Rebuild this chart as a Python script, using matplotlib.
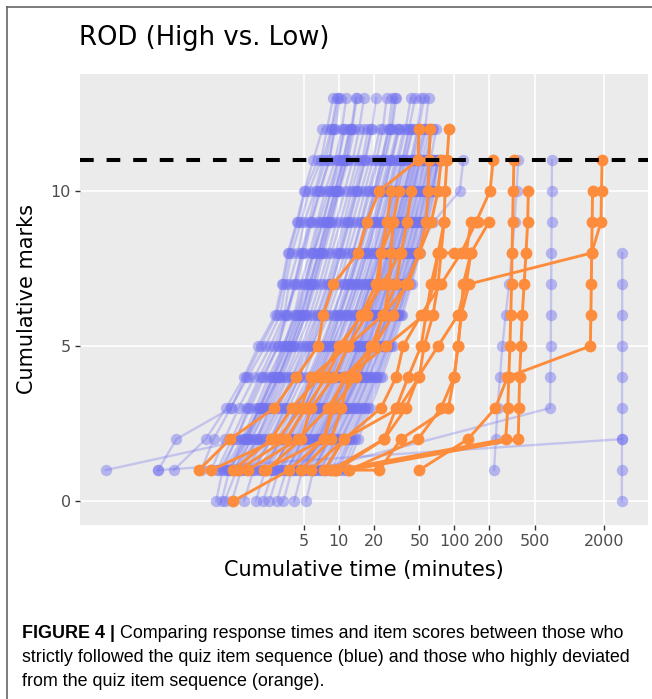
import numpy as np
import matplotlib.pyplot as plt
from matplotlib.lines import Line2D

# ---- data (minutes, cumulative marks) ----
# regular "blue" students: first mark, then one time per item
blue_start = [1, 1, 0, 1, 0, 1, 1, 1, 0, 1, 1, 1, 1, 0, 1, 1, 1, 0, 1, 1, 1, 1, 0, 1,
              1, 1, 1, 0, 1, 1, 1, 0, 1, 1, 1, 0, 1, 1, 1, 1, 1, 1, 1, 1, 1, 1, 1, 1,
              1, 1, 0, 1, 1, 1, 0, 1, 1, 1, 1, 1, 1, 1, 1, 1, 1, 0, 1, 1]
blue_times = [
    [0.64, 0.82, 1.15, 1.62, 2.3, 3.1, 3.45, 3.9, 4.7, 5.5, 7.0, 7.9, 8.9],
    [0.78, 1.02, 1.35, 1.85, 2.55, 3.35, 3.7, 4.4, 5.0, 6.2, 7.3, 8.6, 9.6],
    [0.86, 0.98, 1.28, 1.7, 2.25, 2.95, 3.6, 4.15, 4.8, 5.7, 6.8, 8.2, 9.3, 10.2],
    [0.92, 1.3, 1.62, 2.15, 3.0, 3.45, 4.3, 5.0, 5.8, 6.9, 8.3, 9.1],
    [0.96, 1.12, 1.5, 2.05, 2.7, 3.4, 4.35, 5.1, 5.9, 6.75, 8.1, 9.9, 11.0],
    [1.0, 1.45, 1.9, 2.45, 3.3, 4.1, 4.7, 5.6, 6.5, 7.6, 9.3, 10.6, 11.6],
    [1.07, 1.5, 2.05, 2.7, 3.55, 4.45, 5.3, 6.1, 7.3, 8.5, 9.9, 11.3],
    [1.12, 1.62, 2.2, 2.95, 3.8, 4.75, 5.55, 6.6, 7.7, 9.2, 10.9],
    [1.18, 1.42, 1.95, 2.5, 3.25, 4.1, 5.15, 6.0, 7.1, 8.4, 9.9, 11.7, 13.0, 14.3],
    [1.22, 1.75, 2.4, 3.1, 4.05, 5.2, 6.3, 7.4, 8.7, 10.1, 12.0, 13.6],
    [1.3, 1.9, 2.6, 3.45, 4.4, 5.6, 6.8, 8.1, 9.5, 11.2, 13.2, 15.0, 16.5],
    [1.36, 1.98, 2.75, 3.6, 4.75, 6.0, 7.3, 8.6, 10.3, 12.2, 14.3, 16.6],
    [1.45, 2.1, 2.9, 3.9, 5.0, 6.45, 7.9, 9.4, 11.1, 12.9, 15.3],
    [1.5, 1.82, 2.6, 3.4, 4.5, 5.8, 7.2, 8.7, 10.3, 12.1, 14.3, 16.8, 19.0],
    [1.6, 2.3, 3.2, 4.25, 5.5, 7.0, 8.6, 10.4, 12.4, 14.5, 17.0, 19.4, 21.0],
    [1.7, 2.5, 3.4, 4.55, 5.9, 7.6, 9.3, 11.3, 13.2, 15.6, 18.5],
    [1.8, 2.6, 3.65, 4.9, 6.3, 8.1, 10.0, 12.0, 14.4, 16.8, 19.8, 22.6],
    [1.9, 2.3, 3.1, 4.3, 5.6, 7.3, 9.0, 11.0, 13.1, 15.5, 18.0, 21.2, 24.0, 26.0],
    [2.0, 2.9, 4.0, 5.4, 7.0, 8.9, 11.0, 13.3, 15.8, 18.7, 21.9],
    [2.1, 3.1, 4.3, 5.8, 7.5, 9.6, 11.8, 14.3, 17.0, 20.0, 23.6, 27.0],
    [2.3, 3.3, 4.6, 6.2, 8.1, 10.3, 12.7, 15.4, 18.3, 21.5, 25.3, 29.0, 31.5],
    [2.4, 3.5, 4.9, 6.6, 8.6, 11.0, 13.6, 16.4, 19.6, 23.0, 27.0],
    [2.5, 3.0, 4.2, 5.7, 7.4, 9.5, 11.9, 14.6, 17.5, 20.8, 24.5, 28.5, 33.0],
    [2.6, 3.8, 5.3, 7.1, 9.3, 11.8, 14.6, 17.7, 21.1, 24.8, 29.0, 33.5],
    [2.8, 4.0, 5.6, 7.5, 9.8, 12.5, 15.5, 18.8, 22.4, 26.4, 31.0],
    [3.0, 4.3, 6.0, 8.0, 10.5, 13.4, 16.5, 20.0, 23.9, 28.0, 33.0, 38.0, 42.0],
    [3.1, 4.5, 6.3, 8.5, 11.1, 14.1, 17.4, 21.1, 25.2, 29.6, 34.8],
    [3.3, 3.9, 5.4, 7.3, 9.6, 12.3, 15.3, 18.6, 22.3, 26.3, 30.8, 36.0, 41.0],
    [3.5, 5.0, 7.0, 9.4, 12.2, 15.5, 19.1, 23.2, 27.7, 32.5, 38.0, 44.0],
    [3.7, 5.3, 7.4, 9.9, 12.9, 16.3, 20.1, 24.4, 29.1, 34.2, 40.0],
    [3.9, 5.6, 7.8, 10.4, 13.5, 17.1, 21.1, 25.6, 30.5, 36.0, 42.0, 48.0, 52.0],
    [4.1, 4.8, 6.6, 8.9, 11.6, 14.8, 18.4, 22.4, 26.8, 31.6, 37.0, 43.0],
    [4.3, 6.1, 8.5, 11.3, 14.6, 18.4, 22.6, 27.3, 32.5, 38.2, 44.5, 51.0],
    [4.6, 6.5, 9.0, 11.9, 15.3, 19.3, 23.7, 28.6, 34.0, 40.0, 46.5],
    [4.9, 6.9, 9.5, 12.6, 16.2, 20.3, 24.9, 30.0, 35.6, 41.8, 48.5, 56.0, 60.0],
    [5.2, 6.0, 8.2, 10.9, 14.1, 17.8, 22.0, 26.6, 31.7, 37.3, 43.5, 50.5],
    [5.5, 7.7, 10.5, 13.9, 17.8, 22.3, 27.3, 32.8, 38.9, 45.5, 53.0, 61.0],
    [5.8, 8.1, 11.0, 14.5, 18.6, 23.2, 28.4, 34.1, 40.4, 47.3, 55.0],
    [6.2, 8.6, 11.7, 15.4, 19.7, 24.5, 29.9, 35.9, 42.5, 49.7, 57.5, 66.0],
    [6.6, 9.1, 12.3, 16.2, 20.6, 25.7, 31.3, 37.5, 44.3, 51.8, 60.0],
    [7.0, 9.6, 13.0, 17.0, 21.6, 26.9, 32.7, 39.2, 46.2, 54.0, 62.5, 70.0],
    [7.5, 10.2, 13.7, 17.9, 22.7, 28.1, 34.1, 40.8, 48.1, 56.0, 65.0],
    [8.0, 10.8, 14.4, 18.7, 23.7, 29.3, 35.6, 42.5, 50.0, 58.3, 67.5],
    [8.6, 11.5, 15.2, 19.7, 24.8, 30.6, 37.0, 44.1, 51.9, 60.4, 70.0],
    [9.2, 12.2, 16.0, 20.6, 25.9, 31.9, 38.5, 45.8, 53.8, 62.5, 72.5],
    [10.0, 13.0, 16.9, 21.6, 27.0, 33.1, 39.9, 47.4, 55.6, 64.6, 75.0],
    [10.8, 13.8, 17.8, 22.6, 28.1, 34.3, 41.3, 49.0, 57.4, 66.6, 72.0],
    [11.5, 14.7, 18.8, 23.7, 29.3, 35.6, 42.7, 50.6, 59.2, 68.6, 80.0],
    [1.25, 1.6, 2.2, 3.0, 3.9, 5.0, 6.0, 7.1, 8.3, 9.8, 11.5, 12.8, 14.0],
    [1.55, 2.2, 3.0, 4.0, 5.3, 6.6, 8.2, 9.9, 11.7, 13.8, 16.0, 18.0],
    [2.2, 2.7, 3.7, 5.0, 6.5, 8.3, 10.2, 12.4, 14.8, 17.4, 20.5, 23.5, 27.0, 29.0],
    [2.7, 3.6, 5.0, 6.8, 8.8, 11.2, 13.9, 16.9, 20.2, 23.8, 27.8, 32.0],
    [3.2, 4.7, 6.6, 8.8, 11.4, 14.6, 18.0, 21.8, 26.0, 30.6, 35.5, 40.5, 46.0],
    [3.6, 4.9, 6.9, 9.2, 12.0, 15.2, 18.9, 22.9, 27.4, 32.2, 37.5, 43.0],
    [2.9, 3.5, 4.8, 6.4, 8.4, 10.8, 13.5, 16.5, 19.8, 23.4, 27.3, 31.8, 36.5],
    [4.0, 5.9, 8.1, 10.8, 14.0, 17.7, 21.8, 26.4, 31.5, 37.0, 43.2, 49.0, 55.0],
    [4.5, 6.3, 8.7, 11.6, 15.0, 18.9, 23.2, 28.0, 33.3, 39.1, 45.5],
    [5.0, 7.1, 9.8, 13.0, 16.8, 21.1, 25.9, 31.2, 37.0, 43.4, 50.3, 57.5],
    [5.3, 7.4, 10.1, 13.4, 17.2, 21.6, 26.5, 31.9, 37.8, 44.2, 51.5],
    [6.0, 8.3, 11.3, 14.9, 19.1, 23.9, 29.2, 35.0, 41.5, 48.5, 56.0, 64.0],
    [6.9, 9.4, 12.7, 16.6, 21.1, 26.3, 32.0, 38.3, 45.2, 52.8, 61.0],
    [7.8, 10.5, 14.1, 18.3, 23.2, 28.7, 34.8, 41.6, 49.0, 57.2, 66.0],
    [9.6, 12.6, 16.4, 21.1, 26.4, 32.5, 39.2, 46.6, 54.7, 63.5, 73.0],
    [0.88, 1.18, 1.55, 2.05, 2.75, 3.5, 4.1, 4.75, 5.5, 6.4, 7.7, 8.8, 9.9],
    [1.15, 1.55, 2.1, 2.8, 3.6, 4.6, 5.6, 6.7, 7.9, 9.3, 10.9, 12.4],
    [1.02, 1.3, 1.72, 2.3, 3.0, 3.8, 4.8, 5.7, 6.8, 8.0, 9.5, 11.0, 12.4],
    [2.15, 3.2, 4.45, 6.0, 7.8, 9.9, 12.3, 14.9, 17.8, 20.9, 24.6, 28.2, 30.5],
    [4.8, 6.8, 9.3, 12.3, 15.8, 19.8, 24.3, 29.3, 34.8, 40.9, 47.5, 54.0],
]

# blue students with unusual paths (explicit marks)
blue_odd_marks = [
    [1, 2, 3, 4, 5, 6, 7, 8, 9, 10, 11],
    [1, 2, 3, 4, 5, 6, 7, 8, 9, 10, 11],
    [1, 2, 3, 4, 5, 6, 7, 8, 9, 10, 11, 12],
    [1, 2],
    [0, 1, 2, 3, 4, 5, 6, 7, 8],
    [1, 3, 4, 5, 6, 7, 8, 9, 10, 11],
    [1, 2, 3, 4, 5, 6, 7, 8, 9, 10, 11],
    [1, 2, 3, 4, 5, 6, 7, 8, 9, 10, 11],
]
blue_odd_times = [
    [0.095, 1.6, 2.0, 2.6, 3.3, 4.2, 5.0, 6.0, 7.2, 8.6, 10.5],
    [0.27, 0.39, 1.16, 1.55, 2.1, 2.9, 3.3, 3.7, 4.4, 5.1, 6.6],
    [0.37, 0.7, 1.05, 1.5, 2.0, 2.8, 3.2, 3.6, 4.3, 5.0, 6.0, 7.2],
    [0.27, 2870],
    [2850, 2855, 2858, 2862, 2865, 2868, 2870, 2872, 2875],
    [6.0, 680, 685, 690, 692, 695, 698, 700, 703, 706],
    [222, 230, 238, 250, 262, 280, 300, 318, 335, 348, 360],
    [4.2, 7.5, 11.0, 15.0, 20.0, 27.0, 36.0, 48.0, 66.0, 112, 120],
]

# "orange" students (high deviation)
orange_marks = [
    [1, 2, 3, 4, 5, 6, 7, 8, 9, 10, 11, 12],
    [1, 2, 3, 4, 5, 6, 7, 8, 9, 10],
    [0, 1, 2, 3, 4, 5, 6, 7, 8, 9, 10, 11, 12],
    [1, 2, 3, 4, 5, 6, 7, 8, 9, 10, 11, 12],
    [1, 2, 3, 4, 5, 6, 7, 8, 9, 10, 11],
    [1, 2, 3, 4, 5, 6, 7, 8, 9, 10, 11],
    [1, 2, 3, 4, 5, 6, 7, 8, 9, 10, 11],
    [1, 2, 3, 4, 5, 6, 7, 8, 9, 10],
    [1, 2, 3, 4, 5, 6, 7, 8, 9, 10],
    [1, 1, 2, 3, 4, 5, 6, 7, 8, 9, 10, 11],
    [1, 2, 3, 4, 5, 6, 7, 8, 9],
    [1, 2, 3, 4, 5, 6, 7, 8, 8, 8, 9, 9],
    [1, 2, 3, 4, 5, 6, 7, 8, 9, 10],
    [1, 2, 3, 4, 5, 6, 7, 8, 9, 10],
    [1, 2, 3, 4, 5, 6, 7, 8],
    [1, 2, 3, 4, 5, 6, 7, 8, 9],
    [1, 2, 3, 4, 5, 6, 7, 8, 9],
    [1, 2, 3, 4, 5, 6, 7, 8],
]
orange_times = [
    [0.61, 1.14, 2.75, 4.26, 6.6, 7.3, 8.95, 14.7, 17.4, 22.4, 48.7, 49.5],
    [0.78, 2.97, 4.71, 5.75, 12.0, 17.4, 22.4, 23.2, 29.5, 33.3],
    [1.21, 3.71, 7.46, 8.6, 11.1, 20.2, 29.5, 38.3, 49.8, 57.1, 59.5, 60.5, 62.0],
    [1.63, 4.44, 8.07, 11.6, 25.7, 54.9, 67.0, 72.6, 81.8, 83.4, 86.7, 90.5],
    [2.25, 7.46, 8.95, 14.1, 20.2, 24.1, 39.9, 49.8, 63.2, 72.6, 77.0],
    [5.75, 11.1, 23.2, 31.4, 36.1, 51.7, 77.0, 115, 155, 205, 218],
    [9.5, 280, 292, 298, 305, 310, 315, 318, 322, 326, 330],
    [12.3, 360, 365, 370, 380, 390, 405, 420, 435, 440],
    [49.8, 132, 228, 290, 1520, 1535, 1550, 1560, 1575, 1590],
    [9.0, 22.4, 34.6, 89.0, 100, 108, 115, 135, 1560, 1880, 1900, 1920],
    [8.6, 24.7, 38.3, 48.7, 72.6, 108, 127, 140, 201],
    [9.5, 24.7, 31.4, 39.9, 51.7, 57.1, 63.2, 72.6, 100, 127, 140, 161],
    [2.34, 4.71, 5.75, 9.1, 12.0, 24.1, 31.4, 34.6, 39.0, 42.5],
    [1.34, 3.49, 5.2, 7.76, 10.5, 15.6, 21.1, 23.2, 26.2, 28.4],
    [12.3, 48.7, 77.0, 100, 108, 115, 120, 140],
    [4.71, 8.6, 10.5, 12.3, 19.1, 24.7, 27.3, 28.4, 29.5],
    [7.46, 11.1, 33.3, 49.8, 54.9, 65.5, 72.6, 77.0, 81.8],
    [1.21, 2.6, 3.9, 6.8, 10.0, 16.0, 24.0, 34.0],
]

pass_mark = 11
x_ticks = [5, 10, 20, 50, 100, 200, 500, 2000]
y_ticks = [0, 5, 10]

blue = (0.45, 0.45, 0.94)
orange = '#fd8d3c'

W, H = 652, 699
fig = plt.figure(figsize=(W / 100, H / 100), dpi=100)
ax = fig.add_axes([80 / W, 1 - 525 / H, 568 / W, 451 / H])
ax.set_facecolor('#ebebeb')

blue_series = [(s + np.arange(len(t)), t) for s, t in zip(blue_start, blue_times)]
blue_series += list(zip(blue_odd_marks, blue_odd_times))
for m, t in blue_series:
    ax.plot(t, m, '-', color=blue, alpha=0.33, lw=1.7, zorder=2)
    ax.plot(t, m, 'o', color=blue, alpha=0.45, ms=8.2, mew=0, zorder=2)

for m, t in zip(orange_marks, orange_times):
    ax.plot(t, m, '-o', color=orange, lw=2.1, ms=8.5, mew=0, zorder=3)

ax.axhline(pass_mark, color='black', lw=2.9, dashes=(3.4, 3.2), zorder=4)

ax.set_xscale('log')
ax.set_xlim(10 ** -1.246, 10 ** 3.682)
ax.set_ylim(-0.77, 13.77)
ax.set_xticks(x_ticks)
ax.set_xticklabels([str(v) for v in x_ticks])
ax.xaxis.set_minor_locator(plt.NullLocator())
ax.set_yticks(y_ticks)
ax.grid(True, color='white', lw=1.2, zorder=0)
ax.set_axisbelow(True)
for sp in ax.spines.values():
    sp.set_visible(False)
ax.tick_params(length=3.5, width=1, color='#333333', labelcolor='#4d4d4d',
               labelsize=11.5, pad=3)

ax.set_xlabel('Cumulative time (minutes)', fontsize=15, labelpad=8)
ax.set_ylabel('Cumulative marks', fontsize=15, labelpad=10)

fig.text(79 / W, 1 - 38 / H, 'ROD (High vs. Low)', fontsize=18.6, va='center')

# frame of the figure panel
fig.add_artist(Line2D([7 / W, 1], [1 - 7 / H, 1 - 7 / H], color='#666666', lw=1.2))
fig.add_artist(Line2D([7 / W, 7 / W], [0, 1 - 7 / H], color='#666666', lw=1.2))

# caption
cap_font = dict(family='Liberation Sans', fontsize=12.9, va='center')
r = fig.canvas.get_renderer()
bold = fig.text(22 / W, 1 - 633 / H, 'FIGURE 4 |', weight='bold', **cap_font)
bb = bold.get_window_extent(r)
fig.text(bb.x1 / W, 1 - 633 / H,
         ' Comparing response times and item scores between those who', **cap_font)
fig.text(22 / W, 1 - 657 / H,
         'strictly followed the quiz item sequence (blue) and those who highly deviated',
         **cap_font)
fig.text(22 / W, 1 - 681 / H, 'from the quiz item sequence (orange).', **cap_font)

fig.savefig('out.png', dpi=100)
